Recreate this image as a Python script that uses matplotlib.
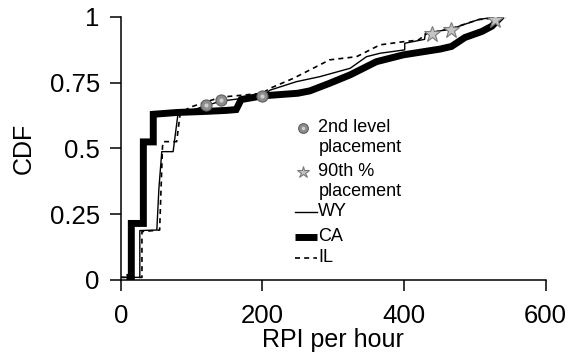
import matplotlib
matplotlib.use("Agg")
import matplotlib.pyplot as plt

plt.rcParams['font.family'] = ['Liberation Sans', 'DejaVu Sans']

# CDF curves (RPI per hour, CDF)
wy_x = [0, 27, 27, 51, 54, 58, 74, 81, 100, 141, 200, 211, 248, 281, 324, 347, 366, 401, 401, 429, 430, 467, 505, 528]
wy_y = [0.01, 0.01, 0.188, 0.19, 0.35, 0.488, 0.488, 0.634, 0.645, 0.68, 0.70, 0.722, 0.754, 0.773, 0.805, 0.849, 0.862, 0.875, 0.90, 0.915, 0.937, 0.955, 0.99, 1.0]

ca_x = [13, 15, 15, 32, 32, 46, 46, 80, 120, 150, 163, 170, 200, 250, 267, 295, 324, 361, 399, 451, 467, 486, 510, 524, 535]
ca_y = [0.01, 0.01, 0.215, 0.215, 0.525, 0.525, 0.63, 0.637, 0.641, 0.645, 0.648, 0.686, 0.70, 0.71, 0.719, 0.748, 0.78, 0.83, 0.856, 0.878, 0.888, 0.922, 0.945, 0.965, 0.995]

il_x = [0, 30, 30, 55, 59, 60, 79, 84, 98, 141, 200, 211, 244, 295, 333, 366, 399, 420, 429, 432, 467, 505, 543]
il_y = [0.01, 0.01, 0.184, 0.19, 0.507, 0.526, 0.526, 0.634, 0.657, 0.695, 0.71, 0.729, 0.767, 0.837, 0.849, 0.894, 0.906, 0.912, 0.93, 0.937, 0.956, 0.99, 1.0]

# placement markers
level2_x = [120, 141, 200]
level2_y = [0.665, 0.685, 0.70]
p90_x = [439, 466, 528]
p90_y = [0.937, 0.952, 0.987]

sphere_style = dict(ls='none', marker='o', mfc='#8c8c8c', mec='#5e5e5e', mew=0.8)
hilite_style = dict(ls='none', marker='o', mfc='#cfcfcf', mec='none')
star_style = dict(ls='none', marker='*', mfc='#c4c4c4', mec='#7a7a7a', mew=0.8)

fig = plt.figure(figsize=(5.72, 3.56), dpi=100)
ax = fig.add_axes([0.211, 0.2135, 0.743, 0.7388])

ax.plot(wy_x, wy_y, color='black', lw=1.0)
ax.plot(ca_x, ca_y, color='black', lw=5.0, solid_joinstyle='miter')
ax.plot(il_x, il_y, color='black', lw=1.2, ls=(0, (3, 2.5)))

ax.plot(level2_x, level2_y, ms=8, zorder=5, **sphere_style)
ax.plot(level2_x, level2_y, ms=3, zorder=6, **hilite_style)
ax.plot(p90_x, p90_y, ms=12, zorder=5, **star_style)

ax.set_xlim(0, 600)
ax.set_ylim(0, 1)
ax.set_xticks([0, 200, 400, 600])
ax.set_yticks([0, 0.25, 0.5, 0.75, 1])
ax.set_yticklabels(['0', '0.25', '0.5', '0.75', '1'])
ax.spines['top'].set_visible(False)
ax.spines['right'].set_visible(False)
for s in ['left', 'bottom']:
    ax.spines[s].set_linewidth(1.1)
ax.tick_params(direction='out', length=8, width=1.1, pad=7, labelsize=18.5)
ax.tick_params(axis='x', pad=9)
ax.set_xlabel('RPI per hour', fontsize=18, labelpad=0)
ax.set_ylabel('CDF', fontsize=18, labelpad=10)

# hand-built legend (markers sit on the first text line, as in the original)
tr = ax.transAxes
hx0, hx1, tx = 0.410, 0.462, 0.465
def ly(py):
    return (280 - py) / 263.0
leg_fs = 13
ax.plot([0.429], [ly(128)], transform=tr, ms=7, clip_on=False, **sphere_style)
ax.plot([0.429], [ly(128)], transform=tr, ms=2.5, clip_on=False, **hilite_style)
ax.text(tx, ly(128), '2nd level', transform=tr, fontsize=leg_fs, va='center')
ax.text(tx, ly(148), 'placement', transform=tr, fontsize=leg_fs, va='center')
ax.plot([0.429], [ly(172)], transform=tr, ms=9, clip_on=False, **star_style)
ax.text(tx, ly(172), '90th %', transform=tr, fontsize=leg_fs, va='center')
ax.text(tx, ly(192), 'placement', transform=tr, fontsize=leg_fs, va='center')
ax.plot([hx0, hx1], [ly(212)] * 2, transform=tr, color='black', lw=1.0)
ax.text(tx, ly(212), 'WY', transform=tr, fontsize=leg_fs, va='center')
ax.plot([hx0, hx1], [ly(237)] * 2, transform=tr, color='black', lw=5.0, solid_capstyle='butt')
ax.text(tx, ly(237), 'CA', transform=tr, fontsize=leg_fs, va='center')
ax.plot([hx0, hx1], [ly(258)] * 2, transform=tr, color='black', lw=1.2, ls=(0, (3, 2.5)))
ax.text(tx, ly(258), 'IL', transform=tr, fontsize=leg_fs, va='center')

fig.savefig('out.png', dpi=100)
